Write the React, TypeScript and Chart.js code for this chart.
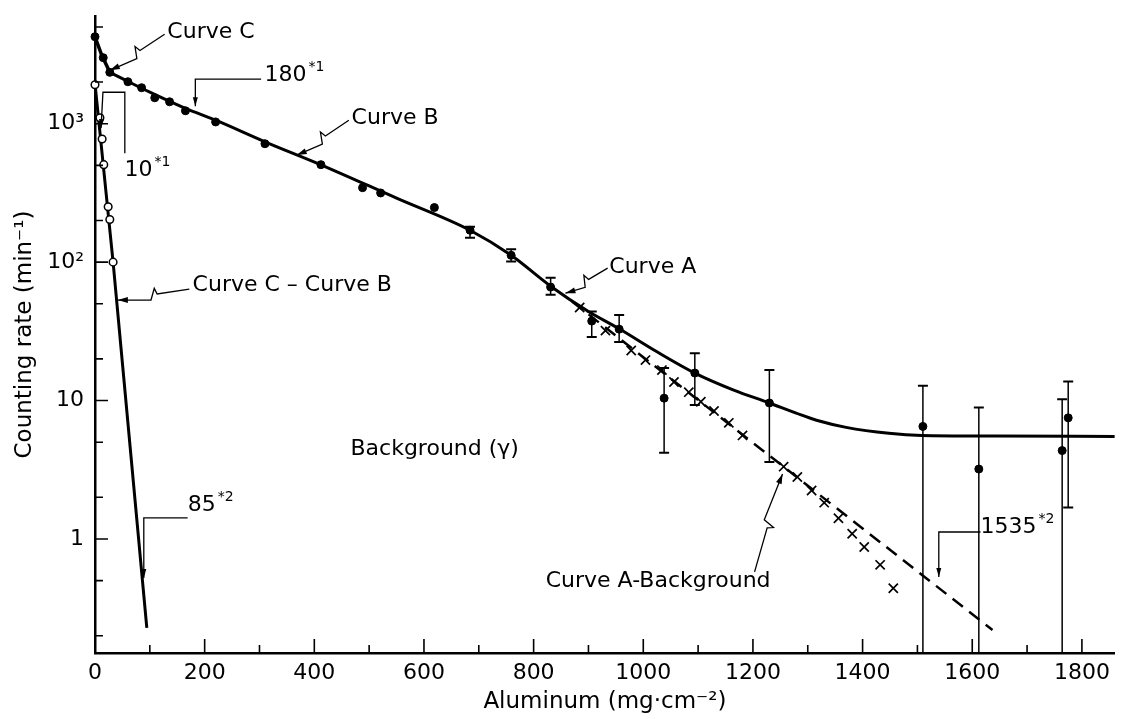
import React, { useEffect, useRef } from "react";
import { Chart, registerables } from "chart.js";

Chart.register(...registerables);

const FAMILY = "'DejaVu Sans', 'Liberation Sans', sans-serif";

// ---------------- data ----------------
// Curve C (total counting rate near zero absorber)
const curveCX = [0, 12, 27];
const curveCY = [4250, 3150, 2350];

// Curve B continuing into Curve A (solid)
const curveBAX = [27, 60, 100, 165, 220, 310, 412, 550, 684, 759, 831, 900, 956, 1025, 1094, 1165, 1230, 1279, 1316, 1370, 1448, 1508, 1642, 1860];
const curveBAY = [2350, 2020, 1690, 1290, 1060, 740, 505, 290, 170, 112, 67, 44, 33, 22.5, 15.8, 11.9, 9.6, 8.1, 7.2, 6.4, 5.8, 5.6, 5.55, 5.5];

// Curve C - Curve B (straight line)
const cMinusBX = [0, 33, 94.5];
const cMinusBY = [1950, 100, 0.228];

// Curve A - Background (dashed)
const aMinusBgX = [870, 1637];
const aMinusBgY = [52, 0.22];

// measured points (filled dots)
const dotsX = [0, 15, 27, 60, 85, 109, 136, 165, 220, 310, 412, 488, 521, 619, 684, 759, 831, 906, 956, 1038, 1094, 1230, 1510, 1612, 1764, 1775];
const dotsY = [4250, 3000, 2350, 2010, 1820, 1540, 1440, 1240, 1030, 717, 506, 345, 316, 248, 170, 112, 66, 37.5, 32.8, 10.4, 15.8, 9.6, 6.5, 3.2, 4.35, 7.5];

// error bars of measured points
const errX = [684, 759, 831, 906, 956, 1038, 1094, 1230, 1510, 1612, 1764, 1775];
const errLo = [150, 101, 58, 28.8, 26.5, 4.2, 9.3, 3.6, 0.1, 0.1, 0.1, 1.69];
const errHi = [180, 124, 77, 44, 41.5, 17.2, 22, 16.6, 12.8, 8.9, 10.2, 13.7];

// Curve C - Curve B points (open circles)
const openX = [0, 9, 13, 16, 24, 27, 33];
const openY = [1910, 1105, 776, 506, 251, 203, 100];

// Curve A - Background points (crosses)
const crossX = [884, 931, 978, 1004, 1034, 1056, 1083, 1105, 1129, 1156, 1181, 1256, 1281, 1307, 1330, 1356, 1381, 1403, 1432, 1456];
const crossY = [47, 32, 23, 19.6, 16.6, 13.6, 11.5, 9.8, 8.4, 6.9, 5.6, 3.33, 2.8, 2.24, 1.83, 1.41, 1.09, 0.875, 0.65, 0.44];

// axis ticks
const xTickValues = [0, 100, 200, 300, 400, 500, 600, 700, 800, 900, 1000, 1100, 1200, 1300, 1400, 1500, 1600, 1700, 1800];
const xTickLabels = ["0", "", "200", "", "400", "", "600", "", "800", "", "1000", "", "1200", "", "1400", "", "1600", "", "1800"];
const yTickValues = [0.2, 0.5, 1, 2, 5, 10, 20, 50, 100, 200, 500, 1000, 2000, 5000];
const yTickLabels = ["", "", "1", "", "", "10", "", "", "10²", "", "", "10³", "", ""];

// ---------------- annotations (anchored in data coordinates) ----------------
const noteTexts = ["Curve C", "180", "Curve B", "10", "Curve C – Curve B", "85", "Background (γ)", "Curve A", "Curve A-Background", "1535"];
const noteSups = ["", "*1", "", "*1", "", "*2", "", "", "", "*2"];
const noteX = [132, 309, 468, 54, 178, 169, 466, 938, 822, 1615];
const noteY = [4580, 2238, 1096, 462, 68.2, 1.76, 4.47, 92, 0.497, 1.22];

// lightning-bolt leaders: start (x,y) -> tip (x,y)
const zigStartX = [127, 463, 172, 935, 1203];
const zigStartY = [4430, 1059, 63.9, 90.5, 0.578];
const zigTipX = [27, 368, 41.7, 858, 1254];
const zigTipY = [2432, 593, 53.2, 59.7, 2.95];

// bracket leaders (polyline, arrow at the last point)
const bracketXs = [
  [303, 183, 183],
  [54.4, 54.4, 14.5, 11],
  [169, 89, 89],
  [1615, 1539, 1539],
];
const bracketYs = [
  [2096, 2096, 1337],
  [612, 1688, 1688, 929],
  [1.418, 1.418, 0.523],
  [1.123, 1.123, 0.532],
];

const pts = (xs: number[], ys: number[]) => xs.map((v, i) => ({ x: v, y: ys[i] }));

function arrowHead(ctx: CanvasRenderingContext2D, fx: number, fy: number, tx: number, ty: number, len: number, half: number) {
  const dx = tx - fx, dy = ty - fy;
  const L = Math.hypot(dx, dy) || 1;
  const ux = dx / L, uy = dy / L;
  const nx = -uy, ny = ux;
  ctx.beginPath();
  ctx.moveTo(tx, ty);
  ctx.lineTo(tx - ux * len + nx * half, ty - uy * len + ny * half);
  ctx.lineTo(tx - ux * len - nx * half, ty - uy * len - ny * half);
  ctx.closePath();
  ctx.fill();
}

const whiteBg = {
  id: "whiteBg",
  beforeDraw(chart: any) {
    const { ctx, width, height } = chart;
    ctx.save();
    ctx.fillStyle = "#fff";
    ctx.fillRect(0, 0, width, height);
    ctx.restore();
  },
};

const errorBars = {
  id: "errorBars",
  beforeDatasetsDraw(chart: any) {
    const { ctx, chartArea: a, scales } = chart;
    const x = scales.x, y = scales.y;
    ctx.save();
    ctx.beginPath();
    ctx.rect(a.left, a.top, a.right - a.left, a.bottom - a.top);
    ctx.clip();
    ctx.strokeStyle = "#000";
    errX.forEach((xv, i) => {
      const px = x.getPixelForValue(xv);
      const pl = y.getPixelForValue(errLo[i]);
      const ph = y.getPixelForValue(errHi[i]);
      ctx.lineWidth = 1.5;
      ctx.beginPath();
      ctx.moveTo(px, pl);
      ctx.lineTo(px, ph);
      ctx.stroke();
      ctx.lineWidth = 2;
      ctx.beginPath();
      ctx.moveTo(px - 5, ph);
      ctx.lineTo(px + 5, ph);
      ctx.moveTo(px - 5, pl);
      ctx.lineTo(px + 5, pl);
      ctx.stroke();
    });
    ctx.restore();
  },
};

const inwardTicks = {
  id: "inwardTicks",
  afterDatasetsDraw(chart: any) {
    const { ctx, chartArea: a, scales } = chart;
    const x = scales.x, y = scales.y;
    ctx.save();
    ctx.strokeStyle = "#000";
    ctx.lineWidth = 1.6;
    ctx.beginPath();
    x.ticks.forEach((t: any) => {
      const px = x.getPixelForValue(t.value);
      const len = t.value % 200 === 0 ? 14 : 8;
      ctx.moveTo(px, a.bottom);
      ctx.lineTo(px, a.bottom - len);
    });
    y.ticks.forEach((t: any) => {
      const py = y.getPixelForValue(t.value);
      const major = Math.abs(Math.log10(t.value) - Math.round(Math.log10(t.value))) < 1e-6;
      const len = major ? 13 : 8;
      ctx.moveTo(a.left, py);
      ctx.lineTo(a.left + len, py);
    });
    ctx.stroke();
    ctx.restore();
  },
};

const notes = {
  id: "notes",
  afterDatasetsDraw(chart: any) {
    const { ctx, scales } = chart;
    const x = scales.x, y = scales.y;
    const P = (a: number, b: number) => [x.getPixelForValue(a), y.getPixelForValue(b)];
    ctx.save();
    ctx.strokeStyle = "#000";
    ctx.fillStyle = "#000";
    ctx.lineWidth = 1.3;
    ctx.lineJoin = "miter";

    // bracket leaders
    bracketXs.forEach((xs, k) => {
      const p = xs.map((xv, i) => P(xv, bracketYs[k][i]));
      ctx.beginPath();
      p.forEach(([px, py], i) => (i ? ctx.lineTo(px, py) : ctx.moveTo(px, py)));
      ctx.stroke();
      const f = p[p.length - 2], t = p[p.length - 1];
      arrowHead(ctx, f[0], f[1], t[0], t[1], 9, 2.5);
    });

    // lightning leaders
    zigStartX.forEach((sxv, k) => {
      const [sx, sy] = P(sxv, zigStartY[k]);
      const [ex, ey] = P(zigTipX[k], zigTipY[k]);
      const dx = ex - sx, dy = ey - sy;
      const L = Math.hypot(dx, dy);
      const ux = dx / L, uy = dy / L;
      const nx = -uy, ny = ux;
      const ax = sx + ux * L * 0.45, ay = sy + uy * L * 0.45;
      const bx = ax + ux * 2 + nx * 6, by = ay + uy * 2 + ny * 6;
      const cx = ax + ux * 7 - nx * 5, cy = ay + uy * 7 - ny * 5;
      ctx.beginPath();
      ctx.moveTo(sx, sy);
      ctx.lineTo(ax, ay);
      ctx.lineTo(bx, by);
      ctx.lineTo(cx, cy);
      ctx.lineTo(ex, ey);
      ctx.stroke();
      arrowHead(ctx, cx, cy, ex, ey, 10, 3);
    });

    // texts
    ctx.textAlign = "left";
    ctx.textBaseline = "middle";
    noteTexts.forEach((txt, k) => {
      const [px, py] = P(noteX[k], noteY[k]);
      ctx.font = `22px ${FAMILY}`;
      ctx.fillText(txt, px, py);
      if (noteSups[k]) {
        const w = ctx.measureText(txt).width;
        ctx.font = `14px ${FAMILY}`;
        ctx.fillText(noteSups[k], px + w + 2, py - 8);
      }
    });
    ctx.restore();
  },
};

export default function App() {
  const ref = useRef<HTMLCanvasElement | null>(null);

  useEffect(() => {
    if (!ref.current) return;
    const black = "#000";
    const chart = new Chart(ref.current, {
      type: "scatter",
      data: {
        datasets: [
          {
            label: "Curve C",
            data: pts(curveCX, curveCY),
            showLine: true,
            borderColor: black,
            borderWidth: 3.5,
            pointRadius: 0,
            order: 2,
          },
          {
            label: "Curve B / Curve A",
            data: pts(curveBAX, curveBAY),
            showLine: true,
            borderColor: black,
            borderWidth: 3,
            pointRadius: 0,
            cubicInterpolationMode: "monotone",
            order: 2,
          },
          {
            label: "Curve C – Curve B",
            data: pts(cMinusBX, cMinusBY),
            showLine: true,
            borderColor: black,
            borderWidth: 3,
            pointRadius: 0,
            order: 2,
          },
          {
            label: "Curve A-Background",
            data: pts(aMinusBgX, aMinusBgY),
            showLine: true,
            borderColor: black,
            borderWidth: 2.5,
            borderDash: [13, 8],
            pointRadius: 0,
            order: 2,
          },
          {
            label: "measured",
            data: pts(dotsX, dotsY),
            showLine: false,
            pointRadius: 4,
            pointBackgroundColor: black,
            pointBorderColor: black,
            pointBorderWidth: 1,
            clip: 8,
            order: 1,
          },
          {
            label: "Curve C – Curve B points",
            data: pts(openX, openY),
            showLine: false,
            pointRadius: 3.8,
            pointBackgroundColor: "#fff",
            pointBorderColor: black,
            pointBorderWidth: 1.5,
            clip: 8,
            order: 1,
          },
          {
            label: "Curve A-Background points",
            data: pts(crossX, crossY),
            showLine: false,
            pointStyle: "crossRot",
            pointRadius: 6.5,
            pointBorderColor: black,
            pointBorderWidth: 1.7,
            order: 1,
          },
        ],
      },
      options: {
        responsive: false,
        animation: false,
        devicePixelRatio: 1,
        layout: { padding: { left: 0, top: 16, right: 3, bottom: 0 } },
        plugins: {
          legend: { display: false },
          tooltip: { enabled: false },
        },
        scales: {
          x: {
            type: "linear",
            min: 0,
            max: 1860,
            grid: { display: false, drawTicks: false },
            border: { display: true, color: black, width: 2.5 },
            afterBuildTicks: (s: any) => {
              s.ticks = xTickValues.map((v) => ({ value: v }));
            },
            afterFit: (s: any) => {
              s.height = 66;
              s.paddingLeft = 0;
              s.paddingRight = 0;
            },
            ticks: {
              autoSkip: false,
              maxRotation: 0,
              minRotation: 0,
              padding: 7,
              color: black,
              font: { family: FAMILY, size: 22 },
              callback: (v: any) => {
                const i = xTickValues.indexOf(Number(v));
                return i >= 0 ? xTickLabels[i] : "";
              },
            },
            title: {
              display: true,
              text: "Aluminum (mg·cm⁻²)",
              color: black,
              font: { family: FAMILY, size: 23 },
              padding: { top: 0, bottom: 3 },
            },
          },
          y: {
            type: "logarithmic",
            min: 0.15,
            max: 6000,
            grid: { display: false, drawTicks: false },
            border: { display: true, color: black, width: 2.5 },
            afterBuildTicks: (s: any) => {
              s.ticks = yTickValues.map((v) => ({ value: v }));
            },
            afterFit: (s: any) => {
              s.width = 95;
              s.paddingTop = 0;
              s.paddingBottom = 0;
            },
            ticks: {
              autoSkip: false,
              padding: 11,
              color: black,
              font: { family: FAMILY, size: 22 },
              callback: (v: any) => {
                const i = yTickValues.findIndex((t) => Math.abs(t - Number(v)) < 1e-9 * Math.max(1, t));
                return i >= 0 ? yTickLabels[i] : "";
              },
            },
            title: {
              display: true,
              text: "Counting rate (min⁻¹)",
              color: black,
              font: { family: FAMILY, size: 23 },
              padding: { top: 11, bottom: 0 },
            },
          },
        },
      },
      plugins: [whiteBg, errorBars, inwardTicks, notes],
    } as any);
    return () => chart.destroy();
  }, []);

  return (
    <div style={{ position: "fixed", left: 0, top: 0, width: 1123, height: 719, background: "#fff" }}>
      <canvas ref={ref} width={1123} height={719} style={{ display: "block", width: 1123, height: 719 }} />
    </div>
  );
}
